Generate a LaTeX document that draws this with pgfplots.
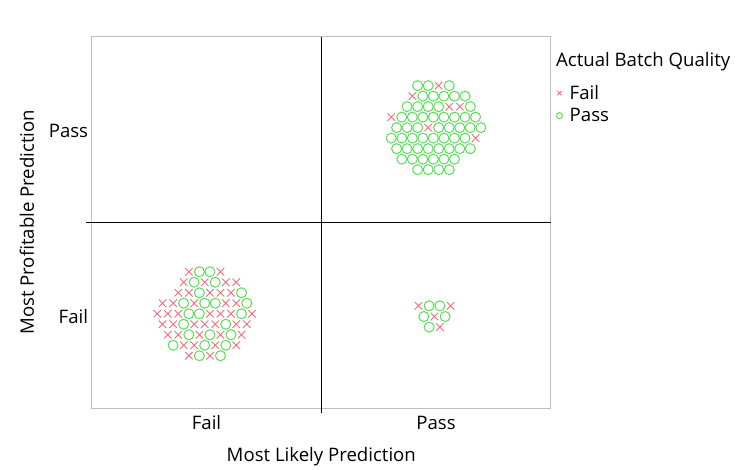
\documentclass[border=0pt]{standalone}
\usepackage{pgfplots}
\pgfplotsset{compat=1.18}
\usepackage{fontspec}
\setmainfont{Open Sans}
\definecolor{failcol}{RGB}{240,110,125}
\definecolor{passcol}{RGB}{85,225,85}
\definecolor{framecol}{RGB}{190,190,190}
\pgfplotsset{smalllegend/.style={legend image code/.code={\path[draw=none,fill=none] (0pt,0pt) -- (11.5pt,0pt); \draw[##1, mark size=3pt] plot coordinates {(2.8pt,0pt)};}}}
\begin{document}
\begin{tikzpicture}[font=\fontsize{18.6}{22}\selectfont]
\path[use as bounding box] (-91.7pt,-61pt) rectangle (658.3pt,408pt);
\begin{axis}[
  at={(0pt,0pt)}, anchor=south west,
  scale only axis, width=459.2pt, height=371.4pt,
  xmin=-0.5, xmax=1.5, ymin=-0.5, ymax=1.5,
  xtick={0,1}, xticklabels={Fail,Pass},
  ytick={0,1}, yticklabels={Fail,Pass},
  major tick length=0pt,
  tick pos=left,
  extra x ticks={0.5}, extra y ticks={0.5},
  extra x tick labels={}, extra y tick labels={},
  extra tick style={grid=major, major grid style={black, line width=1pt},
     major tick length=5.3pt, tick align=outside, tick style={black, line width=1pt}},
  axis line style={draw=framecol, line width=1pt},
  clip=false,
  xticklabel style={anchor=base, yshift=-21.3pt},
  yticklabel style={anchor=east, inner sep=0pt, xshift=-3.4pt, yshift=-1.5pt},
  xlabel={Most Likely Prediction},
  ylabel={Most Profitable Prediction},
  xlabel style={anchor=base, at={(axis description cs:0.5,-0.144)}},
  ylabel style={anchor=base, at={(axis description cs:-0.1257,0.5)}},
  legend style={at={(1.0118,0.873)}, anchor=north west, draw=none, fill=none,
     inner sep=0pt, nodes={inner sep=1.5pt}, row sep=4.2pt,
     font=\fontsize{18.6}{22}\selectfont},
  legend cell align=left,
]
% Fail
\addplot[only marks, mark=x, mark size=5.3pt, failcol, line width=0.9pt, smalllegend]
coordinates {
(-0.0767,0.2337) (0.0609,0.2337)
(-0.0995,0.1772) (-0.0078,0.1772) (0.0840,0.1772) (0.1298,0.1772)
(-0.1226,0.1206) (-0.0767,0.1206) (0.0150,0.1206) (0.0609,0.1206) (0.1067,0.1206)
(-0.1912,0.0641) (-0.1453,0.0641) (-0.0536,0.0641) (0.0840,0.0641) (0.1298,0.0641)
(-0.2143,0.0075) (-0.1684,0.0075) (-0.1226,0.0075) (0.0150,0.0075) (0.0609,0.0075) (0.1067,0.0075) (0.1984,0.0075)
(-0.1912,-0.0490) (-0.1453,-0.0490) (-0.0536,-0.0490) (-0.0078,-0.0490) (0.0381,-0.0490) (0.1298,-0.0490) (0.1757,-0.0490)
(-0.1684,-0.1055) (-0.1226,-0.1055) (-0.0309,-0.1055) (0.0609,-0.1055) (0.1526,-0.1055)
(-0.0995,-0.1621) (-0.0536,-0.1621) (0.0381,-0.1621) (0.1298,-0.1621)
(-0.0767,-0.2186) (0.0150,-0.2186)
(1.0114,1.2359) (0.8966,1.1793) (1.0573,1.1228) (1.1032,1.1228) (0.8049,1.0662) (0.9656,1.0097) (1.1718,0.9531)
(0.9233,0.0501) (1.0632,0.0501) (0.9930,-0.0075) (1.0166,-0.0646)
};
\addlegendentry{Fail}
% Pass
\addplot[only marks, mark=o, mark size=5pt, passcol, line width=1pt, smalllegend]
coordinates {
(-0.0309,0.2337) (0.0150,0.2337)
(-0.0536,0.1772) (0.0381,0.1772)
(-0.0309,0.1206) (0.1526,0.1206)
(-0.0995,0.0641) (-0.0078,0.0641) (0.0381,0.0641) (0.1757,0.0641)
(-0.0767,0.0075) (-0.0309,0.0075) (0.1526,0.0075)
(-0.0995,-0.0490) (0.0840,-0.0490)
(-0.0767,-0.1055) (0.0150,-0.1055) (0.1067,-0.1055)
(-0.1453,-0.1621) (-0.0078,-0.1621) (0.0840,-0.1621)
(-0.0309,-0.2186) (0.0609,-0.2186)
(0.9197,1.2359) (0.9656,1.2359) (1.0573,1.2359)
(0.9425,1.1793) (0.9883,1.1793) (1.0342,1.1793) (1.0800,1.1793) (1.1259,1.1793)
(0.8738,1.1228) (0.9197,1.1228) (0.9656,1.1228) (1.0114,1.1228) (1.1490,1.1228)
(0.8507,1.0662) (0.8966,1.0662) (0.9425,1.0662) (0.9883,1.0662) (1.0342,1.0662) (1.0800,1.0662) (1.1259,1.0662) (1.1718,1.0662)
(0.8280,1.0097) (0.8738,1.0097) (0.9197,1.0097) (1.0114,1.0097) (1.0573,1.0097) (1.1032,1.0097) (1.1490,1.0097) (1.1949,1.0097)
(0.8049,0.9531) (0.8507,0.9531) (0.8966,0.9531) (0.9425,0.9531) (0.9883,0.9531) (1.0342,0.9531) (1.0800,0.9531) (1.1259,0.9531)
(0.8280,0.8966) (0.8738,0.8966) (0.9197,0.8966) (0.9656,0.8966) (1.0114,0.8966) (1.0573,0.8966) (1.1032,0.8966) (1.1490,0.8966)
(0.8507,0.8401) (0.8966,0.8401) (0.9425,0.8401) (0.9883,0.8401) (1.0342,0.8401) (1.0800,0.8401)
(0.9197,0.7835) (0.9656,0.7835) (1.0114,0.7835) (1.0573,0.7835)
(0.9699,0.0501) (1.0166,0.0501) (0.9464,-0.0075) (1.0396,-0.0075) (0.9699,-0.0646)
};
\addlegendentry{Pass}
\node[anchor=base west, inner sep=0pt] at (rel axis cs:1.0111,0.919) {Actual Batch Quality};
\end{axis}
\end{tikzpicture}
\end{document}
